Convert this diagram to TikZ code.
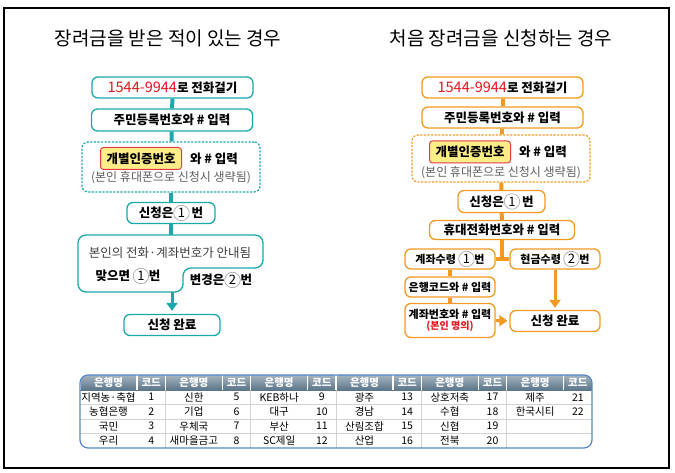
\documentclass[tikz,border=0pt]{standalone}
\usepackage{fontspec}
\setmainfont{Noto Sans CJK KR}
\usetikzlibrary{arrows.meta}
\definecolor{tealc}{RGB}{26,168,170}
\definecolor{orangec}{RGB}{243,153,34}
\definecolor{headc}{RGB}{92,118,138}
\definecolor{tblue}{RGB}{86,134,202}
\definecolor{hlfill}{RGB}{255,238,135}
\definecolor{hlline}{RGB}{228,58,74}
\definecolor{numred}{RGB}{230,22,30}
\definecolor{notegray}{RGB}{95,95,95}
\newcommand{\cnum}[1]{\tikz[baseline=(cn.base)]\node[circle, draw=gray!75, line width=0.6pt, fill=white, inner sep=0pt, minimum size=15.5pt, font=\mdseries\fontsize{13}{13}\selectfont] (cn) {#1};}
\newcommand{\telno}{{\mdseries\color{numred}\fontsize{14.5}{14}\selectfont 1544-9944}}

\begin{document}
\begin{tikzpicture}[x=1pt, y=-1pt,
	tbox/.style={draw=tealc, line width=1.3pt, rounded corners=6pt, fill=white, inner sep=0pt, font=\bfseries\fontsize{12.5}{14}\selectfont},
	obox/.style={tbox, draw=orangec},
	sbox/.style={obox, font=\bfseries\fontsize{11}{12.5}\selectfont},
	hlbox/.style={draw=hlline, line width=1pt, fill=hlfill, rounded corners=3pt, minimum width=81pt, minimum height=22pt, inner sep=0pt, font=\bfseries\fontsize{12.5}{14}\selectfont},
	plain/.style={inner sep=0pt, font=\bfseries\fontsize{12.5}{14}\selectfont},
	note/.style={inner sep=0pt, text=notegray, font=\fontsize{12}{14}\selectfont},
	tlink/.style={draw=tealc, line width=4pt},
	olink/.style={draw=orangec, line width=4pt},
	tarrow/.style={draw=tealc, line width=3pt, shorten >=3pt, -{Triangle[width=11pt, length=8pt]}},
	oarrow/.style={draw=orangec, line width=3pt, shorten >=2pt, -{Triangle[width=11pt, length=8pt]}},
	title/.style={font=\fontsize{19}{21}\selectfont},
	cell/.style={inner sep=0pt, font=\fontsize{10.5}{12}\selectfont}]
	\useasboundingbox (0,0) rectangle (675,473);
	\draw[line width=1.2pt] (4,8) rectangle (669,468);

	\node[title] (l_title) at (168,38) {장려금을 받은 적이 있는 경우};
	\node[title] (r_title) at (501,38) {처음 장려금을 신청하는 경우};

	\node[tbox, minimum width=161pt, minimum height=21pt] (l_call) at (172.5,87.5) {\telno 로 전화걸기};
	\node[tbox, minimum width=161pt, minimum height=22pt] (l_id) at (172,120) {주민등록번호와 \# 입력};
	\node[tbox, dash pattern=on 1.4pt off 2.2pt, line cap=round, minimum width=178pt, minimum height=50pt] (l_auth) at (171,167) {};
	\node[hlbox] (l_hl) at (141,158.5) {개별인증번호};
	\node[plain] (l_and) at (214,158.5) {와 \# 입력};
	\node[note] (l_note) at (171,178) {(본인 휴대폰으로 신청시 생략됨)};
	\node[tbox, minimum width=88pt, minimum height=21pt] (l_one) at (171,213) {신청은\cnum{1}\,번};
	\draw[tealc, line width=1.3pt, rounded corners=8pt, fill=white] (170,235) -- (263,235) -- (263,268) -- (183,268) -- (183,292) -- (78,292) -- (78,235) -- cycle;
	\coordinate (l_info_top) at (171,235);
	\coordinate (l_info_bot) at (172,292);
	\node[note, text=black!75, font=\fontsize{12.5}{14}\selectfont] (l_info) at (170,253) {본인의 전화·계좌번호가 안내됨};
	\node[plain] (l_yes) at (128,276) {맞으면 \cnum{1}번};
	\node[plain] (l_change) at (221,280) {변경은\cnum{2}번};
	\node[tbox, minimum width=96pt, minimum height=21pt] (l_done) at (172,325) {신청 완료};

	\draw[tlink] (l_call) -- (l_id);
	\draw[tlink] (l_id) -- (l_auth);
	\draw[tlink] (l_auth) -- (l_one);
	\draw[tlink] (l_one) -- (l_info_top);
	\draw[tarrow] (l_info_bot) -- (l_done);

	\node[obox, minimum width=161pt, minimum height=21pt] (r_call) at (502.5,87.5) {\telno 로 전화걸기};
	\node[obox, minimum width=161pt, minimum height=21pt] (r_id) at (502.5,117.5) {주민등록번호와 \# 입력};
	\node[obox, dash pattern=on 1.4pt off 2.2pt, line cap=round, minimum width=178pt, minimum height=47pt] (r_auth) at (501,158.5) {};
	\node[hlbox] (r_hl) at (470,152) {개별인증번호};
	\node[plain] (r_and) at (543,152) {와 \# 입력};
	\node[note] (r_note) at (501,173) {(본인 휴대폰으로 신청시 생략됨)};
	\node[obox, minimum width=87pt, minimum height=22pt] (r_one) at (501.5,201.5) {신청은\cnum{1}\,번};
	\node[obox, minimum width=145pt, minimum height=19pt] (r_phone) at (502,230) {휴대전화번호와 \# 입력};
	\node[sbox, minimum width=90pt, minimum height=20pt] (r_acct) at (450,259) {계좌수령 \cnum{1}번};
	\node[sbox, minimum width=90pt, minimum height=20pt] (r_cash) at (555,259) {현금수령 \cnum{2}번};
	\node[sbox, minimum width=90pt, minimum height=20pt] (r_code) at (450,287) {은행코드와 \# 입력};
	\node[sbox, minimum width=90pt, minimum height=34pt, align=center] (r_num) at (450,320.5) {계좌번호와 \# 입력\\[-1pt]{\color{numred}\fontsize{10}{11}\selectfont(본인 명의)}};
	\node[obox, minimum width=90pt, minimum height=21pt] (r_done) at (555,321) {신청 완료};

	\draw[olink] (r_call) -- (r_id);
	\draw[olink] (r_id) -- (r_auth);
	\draw[olink] (r_auth) -- (r_one);
	\draw[olink] (r_one) -- (r_phone);
	\draw[olink] (r_phone) -- (r_phone |- r_acct);
	\draw[olink] (r_acct) -- (r_cash);
	\draw[olink] (r_acct) -- (r_code);
	\draw[olink] (r_code) -- (r_num);
	\draw[oarrow] (r_cash) -- (r_done);
	\draw[oarrow] (r_num) -- (r_done);

	\begin{scope}
		\clip[rounded corners=8pt] (80,375) rectangle (592,448);
		\shade[top color=headc!55!white, bottom color=headc] (80,375) rectangle (592,390);
		\foreach \y in {404.5,419,433.5}
			\draw[gray!35, line width=0.8pt] (80,\y) -- (592,\y);
		\foreach \g in {1,...,5}
			\draw[gray!35, line width=0.8pt] (80+85.33*\g,390) -- (80+85.33*\g,448);
		\foreach \g in {0,...,5} {
			\draw[white, line width=1.2pt] (80+85.33*\g+57,375) -- (80+85.33*\g+57,390);
			\draw[white, line width=1.2pt] (80+85.33*\g,375) -- (80+85.33*\g,390);
		}
	\end{scope}
	\draw[tblue, line width=1.2pt, rounded corners=8pt] (80,375) rectangle (592,448);
	\foreach \g in {0,...,5} {
		\node[cell, text=white, font=\bfseries\fontsize{10.5}{12}\selectfont] (hd_name\g) at (80+85.33*\g+28.5,382.5) {은행명};
		\node[cell, text=white, font=\bfseries\fontsize{10.5}{12}\selectfont] (hd_code\g) at (80+85.33*\g+71.2,382.5) {코드};
	}
	\foreach \n/\bank in {1/지역농·축협, 2/농협은행, 3/국민, 4/우리, 5/신한, 6/기업, 7/우체국, 8/새마을금고, 9/KEB하나, 10/대구, 11/부산, 12/SC제일, 13/광주, 14/경남, 15/산림조합, 16/산업, 17/상호저축, 18/수협, 19/신협, 20/전북, 21/제주, 22/한국시티} {
		\pgfmathtruncatemacro{\g}{(\n-1)/4}
		\pgfmathtruncatemacro{\rw}{\n-1-4*\g}
		\node[cell] (bk_name\n) at (80+85.33*\g+28.5,397.25+14.5*\rw) {\bank};
		\node[cell] (bk_code\n) at (80+85.33*\g+71.2,397.25+14.5*\rw) {\n};
	}
\end{tikzpicture}
\end{document}
